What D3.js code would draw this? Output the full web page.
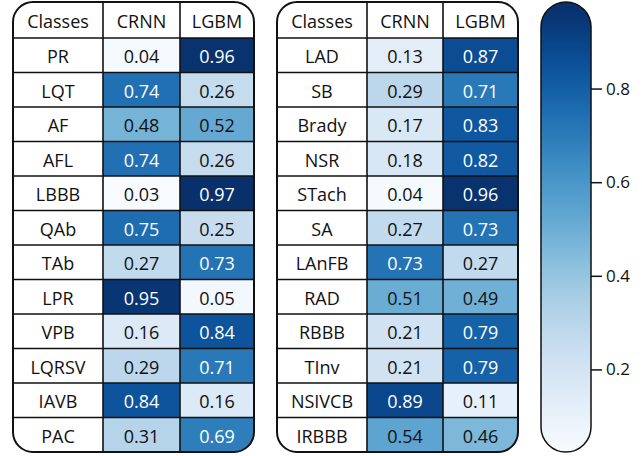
<!DOCTYPE html>
<html><head><meta charset="utf-8">
<script src="https://cdn.jsdelivr.net/npm/d3@7"></script>
<style>html,body{margin:0;padding:0;background:#fff;}svg{display:block;}</style>
</head><body>
<svg id="chart" width="642" height="456"></svg>
<script>
const headers = ["Classes", "CRNN", "LGBM"];
const classesLeft = ["PR","LQT","AF","AFL","LBBB","QAb","TAb","LPR","VPB","LQRSV","IAVB","PAC"];
const crnnLeft =   [0.04,0.74,0.48,0.74,0.03,0.75,0.27,0.95,0.16,0.29,0.84,0.31];
const lgbmLeft =   [0.96,0.26,0.52,0.26,0.97,0.25,0.73,0.05,0.84,0.71,0.16,0.69];
const classesRight = ["LAD","SB","Brady","NSR","STach","SA","LAnFB","RAD","RBBB","TInv","NSIVCB","IRBBB"];
const crnnRight =    [0.13,0.29,0.17,0.18,0.04,0.27,0.73,0.51,0.21,0.21,0.89,0.54];
const lgbmRight =    [0.87,0.71,0.83,0.82,0.96,0.73,0.27,0.49,0.79,0.79,0.11,0.46];
const colorTicks = [0.2, 0.4, 0.6, 0.8];

const svg = d3.select("#chart");
const FONT = "'Open Sans', 'DejaVu Sans', sans-serif";
const FS = 18;
const allVals = crnnLeft.concat(lgbmLeft, crnnRight, lgbmRight);
const color = d3.scaleSequential(d3.interpolateBlues).domain(d3.extent(allVals));

const tableTop = 2, headerH = 36, rowH = 34.5, radius = 20;

function drawTable(id, x0, widths, classes, crnn, lgbm) {
  const rows = classes.map((c, i) => ({c, a: crnn[i], b: lgbm[i]}));
  const totalW = d3.sum(widths);
  const totalH = headerH + rowH * rows.length;
  const xs = [x0, x0 + widths[0], x0 + widths[0] + widths[1]];
  const y = d3.scaleBand().domain(d3.range(rows.length)).range([tableTop + headerH, tableTop + totalH]);
  const g = svg.append("g");
  const clip = svg.append("defs").append("clipPath").attr("id", id);
  clip.append("rect").attr("x", x0).attr("y", tableTop).attr("width", totalW).attr("height", totalH)
    .attr("rx", radius).attr("ry", radius);
  const inner = g.append("g").attr("clip-path", `url(#${id})`);
  inner.append("rect").attr("x", x0).attr("y", tableTop).attr("width", totalW).attr("height", totalH).attr("fill", "#fff");
  [["a", 1], ["b", 2]].forEach(([k, col]) => {
    inner.selectAll(null).data(rows).enter().append("rect")
      .attr("x", xs[col]).attr("y", (d, i) => y(i))
      .attr("width", widths[col]).attr("height", y.bandwidth())
      .attr("fill", d => color(d[k]));
  });
  y.domain().forEach(i => {
    inner.append("line").attr("x1", x0).attr("x2", x0 + totalW)
      .attr("y1", y(i)).attr("y2", y(i)).attr("stroke", "#111").attr("stroke-width", 1.6);
  });
  [xs[1], xs[2]].forEach(x => {
    inner.append("line").attr("x1", x).attr("x2", x).attr("y1", tableTop).attr("y2", tableTop + totalH)
      .attr("stroke", "#111").attr("stroke-width", 1.6);
  });
  g.append("rect").attr("x", x0).attr("y", tableTop).attr("width", totalW).attr("height", totalH)
    .attr("rx", radius).attr("ry", radius).attr("fill", "none").attr("stroke", "#111").attr("stroke-width", 2);
  headers.forEach((h, j) => {
    g.append("text").attr("x", xs[j] + widths[j] / 2).attr("y", tableTop + headerH / 2 + 1)
      .attr("text-anchor", "middle").attr("dominant-baseline", "central")
      .attr("font-family", FONT).attr("font-size", FS).attr("fill", "#111").text(h);
  });
  rows.forEach((d, i) => {
    const cyy = y(i) + y.bandwidth() / 2 + 1;
    g.append("text").attr("x", xs[0] + widths[0] / 2).attr("y", cyy)
      .attr("text-anchor", "middle").attr("dominant-baseline", "central")
      .attr("font-family", FONT).attr("font-size", FS).attr("fill", "#111").text(d.c);
    [["a", 1], ["b", 2]].forEach(([k, col]) => {
      g.append("text").attr("x", xs[col] + widths[col] / 2).attr("y", cyy)
        .attr("text-anchor", "middle").attr("dominant-baseline", "central")
        .attr("font-family", FONT).attr("font-size", FS)
        .attr("fill", d[k] >= 0.6 ? "#fff" : "#111").text(d3.format(".2f")(d[k]));
    });
  });
}

drawTable("clipL", 13, [90, 77, 74], classesLeft, crnnLeft, lgbmLeft);
drawTable("clipR", 277, [90, 76, 75], classesRight, crnnRight, lgbmRight);

const cbX = 541, cbW = 50, cbTop = 2, cbBot = 452;
const cbScale = d3.scaleLinear().domain(color.domain()).range([449, 9]);
const defs = svg.append("defs");
const grad = defs.append("linearGradient").attr("id", "cbgrad")
  .attr("gradientUnits", "userSpaceOnUse").attr("x1", 0).attr("x2", 0).attr("y1", cbBot).attr("y2", cbTop);
d3.range(0, 1.0001, 0.05).forEach(t => {
  const yy = cbBot + t * (cbTop - cbBot);
  const v = Math.max(color.domain()[0], Math.min(color.domain()[1], cbScale.invert(yy)));
  grad.append("stop").attr("offset", t).attr("stop-color", color(v));
});
svg.append("rect").attr("x", cbX).attr("y", cbTop).attr("width", cbW).attr("height", cbBot - cbTop)
  .attr("rx", cbW / 2).attr("ry", cbW / 2).attr("fill", "url(#cbgrad)")
  .attr("stroke", "#111").attr("stroke-width", 1.5);
const axis = d3.axisRight(cbScale).tickValues(colorTicks).tickFormat(d3.format(".1f")).tickSize(11).tickPadding(4);
const ag = svg.append("g").attr("transform", `translate(${cbX + cbW},0)`).call(axis);
ag.select(".domain").remove();
ag.selectAll(".tick line").attr("stroke", "#111").attr("stroke-width", 1.5);
ag.selectAll(".tick text").attr("font-family", FONT).attr("font-size", 17).attr("fill", "#111");
</script>
</body></html>
